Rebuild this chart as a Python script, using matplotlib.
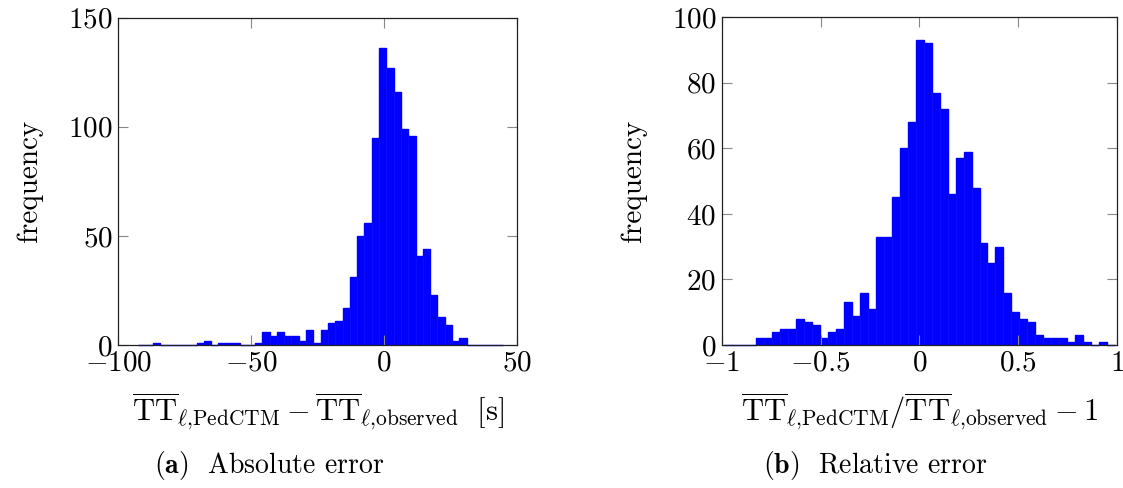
import matplotlib
matplotlib.use("Agg")
import matplotlib.pyplot as plt
import numpy as np
from matplotlib.ticker import FuncFormatter

plt.rcParams['font.family'] = 'serif'
plt.rcParams['font.serif'] = ['cmr10']
plt.rcParams['mathtext.fontset'] = 'cm'
plt.rcParams['axes.unicode_minus'] = False

# absolute error histogram (50 bins)
abs_lo, abs_hi = -92.5, 44.8
abs_counts = [0, 0, 1, 0, 0, 0, 0, 0, 1, 2,
              0, 1, 1, 1, 0, 0, 1, 6, 4, 6,
              4, 4, 2, 7, 1, 7, 10, 11, 17, 31,
              50, 56, 95, 136, 127, 116, 99, 96, 41, 44,
              23, 13, 9, 2, 3, 0, 0, 0, 0, 0]

# relative error histogram (49 bins)
rel_lo, rel_hi = -0.990, 0.9916
rel_counts = [0, 0, 0, 0, 2, 2, 4, 5, 5, 8,
              7, 6, 2, 4, 5, 13, 9, 16, 11, 33,
              33, 45, 60, 68, 93, 92, 77, 72, 46, 57,
              59, 48, 31, 25, 30, 16, 10, 8, 7, 3,
              2, 2, 2, 1, 3, 1, 0, 1, 0]

abs_xticks = [-100, -50, 0, 50]
abs_yticks = [0, 50, 100, 150]
rel_xticks = [-1, -0.5, 0, 0.5, 1]
rel_yticks = [0, 20, 40, 60, 80, 100]

fig = plt.figure(figsize=(11.23, 4.88), dpi=100)
ax1 = fig.add_axes([0.1053, 0.293, 0.355, 0.6707])
ax2 = fig.add_axes([0.6427, 0.293, 0.3520, 0.672])


def draw(ax, counts, lo, hi, xlim, ylim, xticks, yticks):
    edges = np.linspace(lo, hi, len(counts) + 1)
    centers = 0.5 * (edges[:-1] + edges[1:])
    ax.hist(centers, bins=edges, weights=counts, color='blue',
            edgecolor='blue', linewidth=0.4)
    # outline so that empty bins show as a line on the baseline
    ax.stairs(counts, edges, color='blue', linewidth=1.0, clip_on=False)
    ax.set_xlim(*xlim)
    ax.set_ylim(*ylim)
    ax.set_xticks(xticks)
    ax.set_yticks(yticks)
    fmt = FuncFormatter(lambda v, p: '$%g$' % v)
    ax.xaxis.set_major_formatter(fmt)
    ax.yaxis.set_major_formatter(fmt)
    ax.tick_params(direction='in', top=True, right=True, length=7.5,
                   width=0.8, color='#888888', labelsize=21, pad=4)
    for s in ax.spines.values():
        s.set_linewidth(0.9)
        s.set_color('#222222')
        s.set_zorder(3)
    ax.set_ylabel('frequency', fontsize=21, labelpad=18)


draw(ax1, abs_counts, abs_lo, abs_hi, (-100, 50), (0, 150), abs_xticks, abs_yticks)
draw(ax2, rel_counts, rel_lo, rel_hi, (-1, 1), (0, 100), rel_xticks, rel_yticks)

ax1.set_xlabel(r'$\overline{\mathrm{TT}}_{\ell{,}\mathrm{PedCTM}} - '
               r'\overline{\mathrm{TT}}_{\ell{,}\mathrm{observed}}\ \ [\mathrm{s}]$',
               fontsize=22, labelpad=10)
ax2.set_xlabel(r'$\overline{\mathrm{TT}}_{\ell{,}\mathrm{PedCTM}} / '
               r'\overline{\mathrm{TT}}_{\ell{,}\mathrm{observed}} - 1$',
               fontsize=22, labelpad=10)

fig.text(0.240, 0.030, r'$\mathbf{(a)}$  Absolute error', fontsize=20, ha='center')
fig.text(0.779, 0.030, r'$\mathbf{(b)}$  Relative error', fontsize=20, ha='center')

fig.savefig('out.png', dpi=100)
